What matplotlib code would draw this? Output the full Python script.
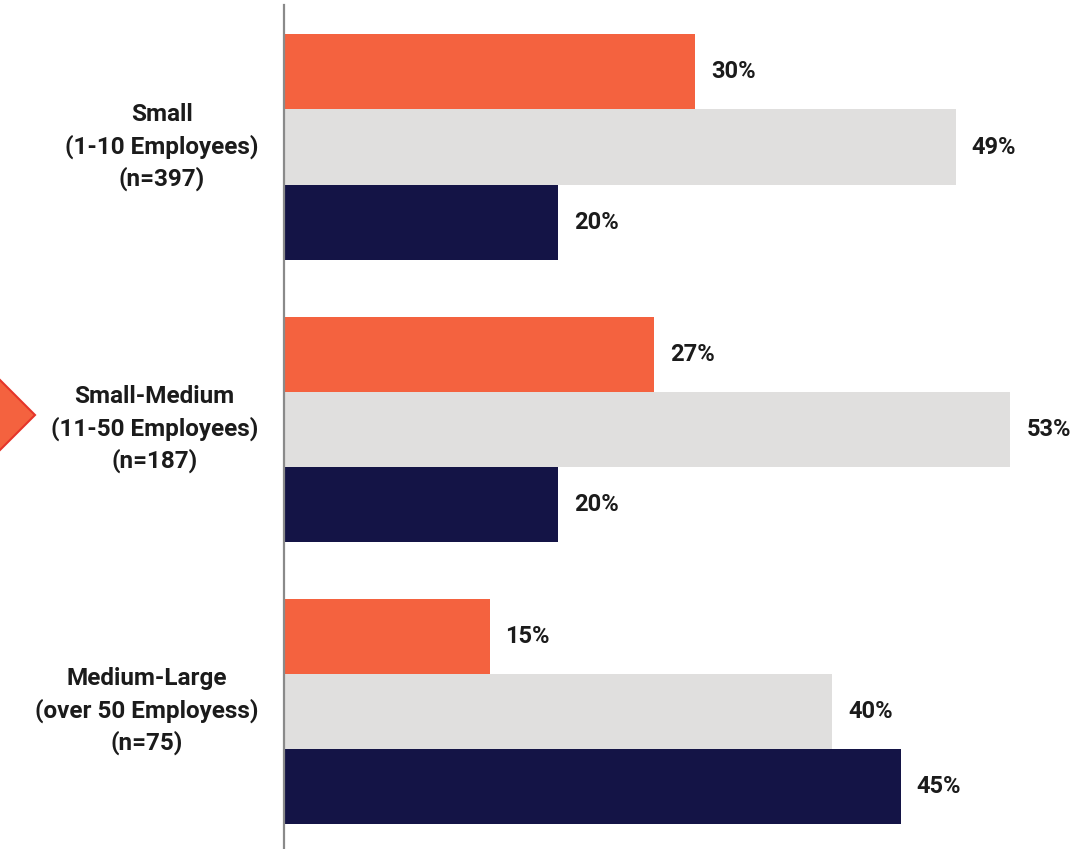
import matplotlib
matplotlib.use("Agg")
import matplotlib.pyplot as plt
from matplotlib.patches import Polygon

# Company-size groups and the share for each of the three series
categories = [
    "Small\n(1-10 Employees)\n(n=397)",
    "Small-Medium\n(11-50 Employees)\n(n=187)",
    "Medium-Large\n(over 50 Employess)\n(n=75)",
]
series_orange = [30, 27, 15]
series_gray = [49, 53, 40]
series_navy = [20, 20, 45]

colors = ["#F4623F", "#E0DFDE", "#141446"]
text_color = "#1B1B1B"

W, H, DPI = 1083, 849, 100
fig = plt.figure(figsize=(W / DPI, H / DPI), dpi=DPI)
ax = fig.add_axes([284 / W, 0, (W - 284) / W, (H - 5) / H])

bar_h = 0.266
offsets = [-bar_h, 0, bar_h]
for vals, off, col in zip([series_orange, series_gray, series_navy], offsets, colors):
    ys = [i + off for i in range(len(categories))]
    ax.barh(ys, vals, height=bar_h, color=col, edgecolor="none")
    for y, v in zip(ys, vals):
        ax.annotate(f"{v}%", xy=(v, y), xytext=(11.5, 0), textcoords="offset points",
                    ha="left", va="center", fontsize=17, fontweight="bold",
                    family="Roboto", color=text_color)

for i, lab in enumerate(categories):
    ax.annotate(lab, xy=(0, i), xycoords=("axes fraction", "data"),
                xytext=(-18.5, 0), textcoords="offset points",
                ha="right", va="center", multialignment="center",
                linespacing=1.43, fontsize=17.5, fontweight="bold",
                family="Roboto", color=text_color)

ax.set_xlim(0, 58.3)
ax.set_ylim(2.489, -0.5035)
ax.set_xticks([])
ax.set_yticks([])
for s in ["top", "right", "bottom"]:
    ax.spines[s].set_visible(False)
ax.spines["left"].set_color("#8A8A8A")
ax.spines["left"].set_linewidth(1.6)

# Pointer marker at the left edge beside the middle group
pts = [(-35, 415), (0, 380), (35, 415), (0, 450)]
marker = Polygon([(x / W, 1 - y / H) for x, y in pts], closed=True,
                 transform=fig.transFigure, facecolor="#F4623F",
                 edgecolor="#E5352B", linewidth=1.5, clip_on=False)
fig.patches.append(marker)

fig.savefig("out.png", dpi=DPI)
